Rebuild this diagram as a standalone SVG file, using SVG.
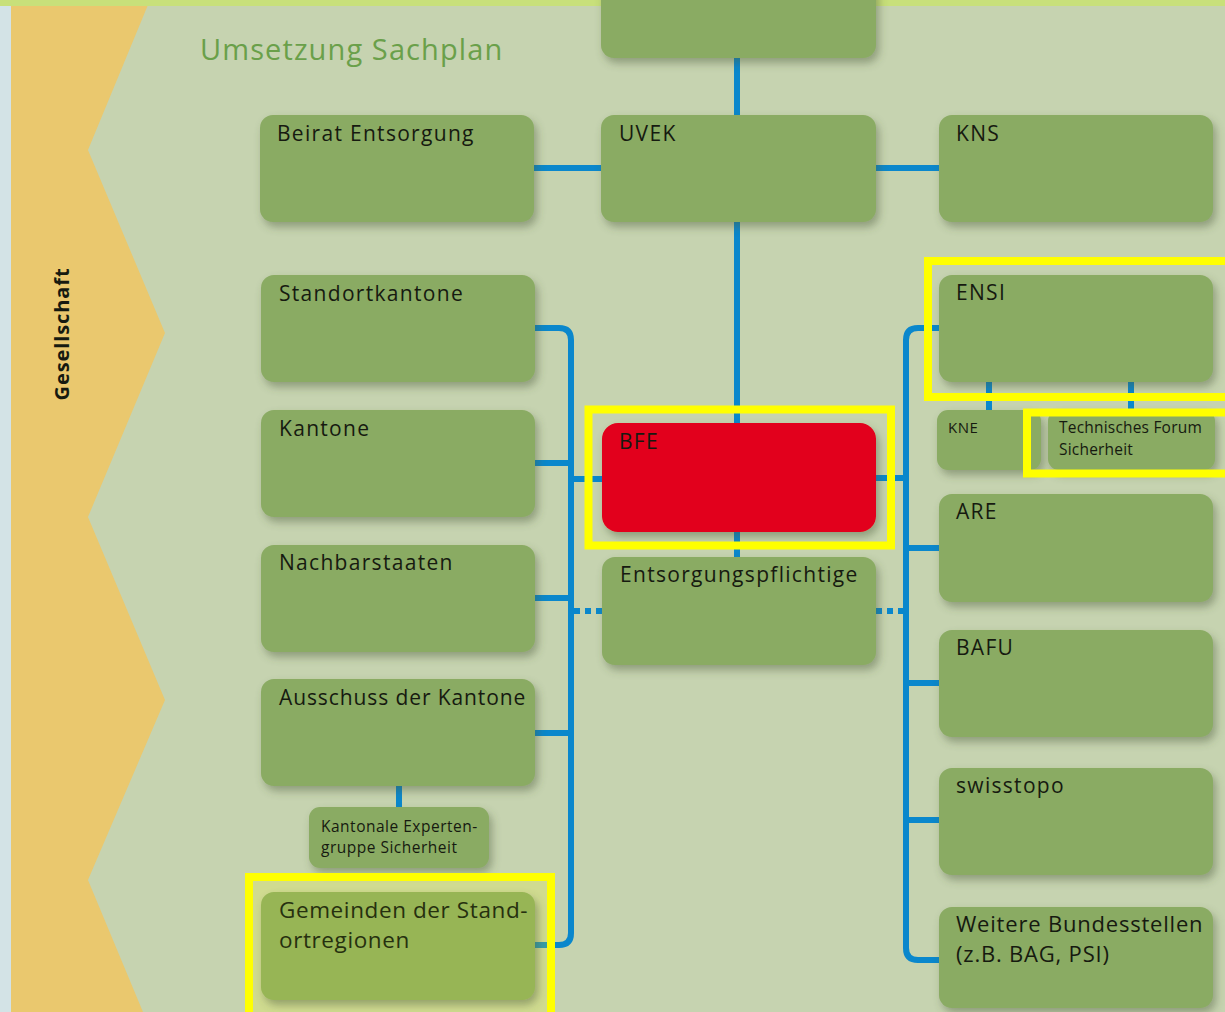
<svg xmlns="http://www.w3.org/2000/svg" width="1225" height="1012" viewBox="0 0 1225 1012">
<defs>
<filter id="sh" x="-10%" y="-10%" width="130%" height="140%">
<feDropShadow dx="3" dy="5" stdDeviation="4" flood-color="#4a5a3a" flood-opacity="0.45"/>
</filter>
<style>
.box{fill:#8aab63;filter:url(#sh)}
.red{fill:#e2001a;filter:url(#sh)}
.t{font-family:"Open Sans","Noto Sans",sans-serif;font-size:21px;fill:#161a10;letter-spacing:1.3px}
.s{font-family:"Open Sans","Noto Sans",sans-serif;font-size:15.5px;fill:#161a10;letter-spacing:0.5px}
.c{fill:none;stroke:#0a87cc;stroke-width:6}
.d{fill:none;stroke:#0a87cc;stroke-width:6;stroke-dasharray:6 5}
.hl{fill:none;stroke:#ffff00;stroke-width:8}
</style>
</defs>
<rect x="0" y="0" width="1225" height="1012" fill="#c6d3b0"/>
<rect x="0" y="0" width="11" height="1012" fill="#d3e3e6"/>
<polygon points="11,0 150,0 88,150 165,333 88,517 165,700 88,880 143,1012 11,1012" fill="#eac86e"/>
<rect x="0" y="0" width="1225" height="6" fill="#c8e07a"/>
<text x="0" y="0" transform="translate(69,334) rotate(-90)" text-anchor="middle" font-family="'Open Sans','Noto Sans',sans-serif" font-size="20" font-weight="bold" letter-spacing="0.9" fill="#161a10">Gesellschaft</text>
<text x="200" y="60" font-family="'Open Sans','Noto Sans',sans-serif" font-size="29" letter-spacing="1.1" fill="#6aa04a">Umsetzung Sachplan</text>

<g id="connectors">
<path class="c" d="M737 58V115M737 222V423M737 532V557"/>
<path class="c" d="M534 168H601M876 168H939"/>
<path class="c" d="M535 328H559Q571 328 571 340V933Q571 945 559 945H535"/>
<path class="c" d="M535 463H571M535 598H571M535 733H571M571 479H602"/>
<path class="d" d="M574 611H602"/>
<path class="c" d="M399 786V807"/>
<path class="c" d="M939 328H918Q906 328 906 340V948Q906 960 918 960H939"/>
<path class="c" d="M876 478H906M906 548H939M906 683H939M906 820H939"/>
<path class="d" d="M876 611H903"/>
<path class="c" d="M989 382V410M1131 382V410"/>
</g>

<g id="node-top"><rect class="box" x="601" y="-20" width="275" height="78" rx="13"/></g>
<g id="node-beirat"><rect class="box" x="260" y="115" width="274" height="107" rx="13"/><text class="t" x="277" y="141">Beirat Entsorgung</text></g>
<g id="node-uvek"><rect class="box" x="601" y="115" width="275" height="107" rx="13"/><text class="t" x="619" y="141">UVEK</text></g>
<g id="node-kns"><rect class="box" x="939" y="115" width="274" height="107" rx="13"/><text class="t" x="956" y="141">KNS</text></g>
<g id="node-standortkantone"><rect class="box" x="261" y="275" width="274" height="107" rx="13"/><text class="t" x="279" y="301">Standortkantone</text></g>
<g id="node-kantone"><rect class="box" x="261" y="410" width="274" height="107" rx="13"/><text class="t" x="279" y="436">Kantone</text></g>
<g id="node-nachbarstaaten"><rect class="box" x="261" y="545" width="274" height="107" rx="13"/><text class="t" x="279" y="570">Nachbarstaaten</text></g>
<g id="node-ausschuss"><rect class="box" x="261" y="679" width="274" height="107" rx="13"/><text class="t" x="279" y="705" style="letter-spacing:0.9px">Ausschuss der Kantone</text></g>
<g id="node-expertengruppe"><rect class="box" x="309" y="807" width="180" height="61" rx="11"/><text class="s" x="321" y="832">Kantonale Experten-</text><text class="s" x="321" y="853">gruppe Sicherheit</text></g>
<g id="node-gemeinden"><rect x="249" y="877" width="302" height="140" fill="#ffff00" fill-opacity="0.18"/><rect class="box" x="261" y="892" width="274" height="108" rx="13" style="fill:#97b555"/><text class="t" x="279" y="918" style="font-size:22.5px;letter-spacing:0.6px;fill:#26300f">Gemeinden der Stand-</text><text class="t" x="279" y="948" style="font-size:22.5px;letter-spacing:0.6px;fill:#26300f">ortregionen</text><rect class="hl" x="249" y="877" width="302" height="145"/></g>
<g id="node-bfe"><rect class="red" x="602" y="423" width="274" height="109" rx="16"/><text class="t" x="619" y="449">BFE</text><rect class="hl" x="588.5" y="409.5" width="302.5" height="136"/></g>
<g id="node-entsorgungspflichtige"><rect class="box" x="602" y="557" width="274" height="108" rx="13"/><text class="t" x="620" y="582">Entsorgungspflichtige</text></g>
<g id="node-ensi"><rect class="box" x="939" y="275" width="274" height="107" rx="13"/><text class="t" x="956" y="300">ENSI</text><rect class="hl" x="928" y="261" width="310" height="136"/></g>
<g id="node-kne"><rect class="box" x="937" y="410" width="104" height="60" rx="11"/><text class="s" x="948" y="433" style="font-size:15px">KNE</text></g>
<g id="node-forum"><rect class="box" x="1048" y="410" width="167" height="60" rx="11"/><text class="s" x="1059" y="433" style="letter-spacing:0.2px">Technisches Forum</text><text class="s" x="1059" y="455" style="letter-spacing:0.2px">Sicherheit</text><rect class="hl" x="1027" y="412.5" width="210" height="61"/></g>
<g id="node-are"><rect class="box" x="939" y="494" width="274" height="108" rx="13"/><text class="t" x="956" y="519">ARE</text></g>
<g id="node-bafu"><rect class="box" x="939" y="630" width="274" height="107" rx="13"/><text class="t" x="956" y="655">BAFU</text></g>
<g id="node-swisstopo"><rect class="box" x="939" y="768" width="274" height="107" rx="13"/><text class="t" x="956" y="793">swisstopo</text></g>
<g id="node-weitere"><rect class="box" x="939" y="907" width="274" height="101" rx="13"/><text class="t" x="956" y="932" style="font-size:22px;letter-spacing:0.8px">Weitere Bundesstellen</text><text class="t" x="956" y="962" style="font-size:22px;letter-spacing:0.8px">(z.B. BAG, PSI)</text></g>
</svg>
